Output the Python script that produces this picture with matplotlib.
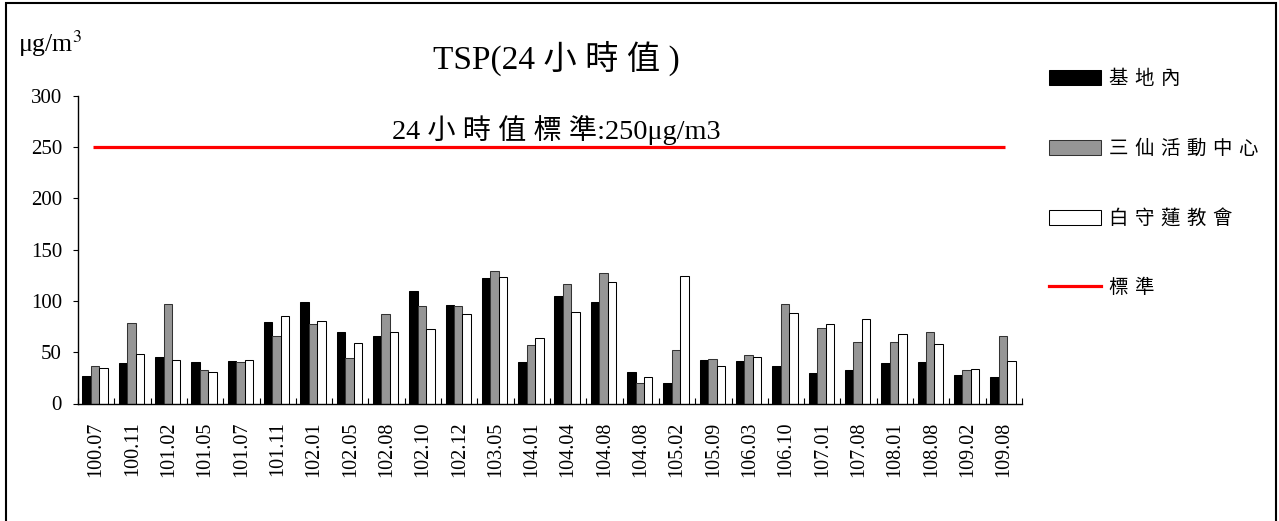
import matplotlib
matplotlib.use("Agg")
import matplotlib.pyplot as plt
import numpy as np
from matplotlib.patches import Rectangle, Patch
from matplotlib.lines import Line2D

categories = ["100.07", "100.11", "101.02", "101.05", "101.07", "101.11", "102.01",
              "102.05", "102.08", "102.10", "102.12", "103.05", "104.01", "104.04",
              "104.08", "104.08", "105.02", "105.09", "106.03", "106.10", "107.01",
              "107.08", "108.01", "108.08", "109.02", "109.08"]
site_inside = [26.5, 39.5, 45, 40.5, 41.7, 80, 99.4, 70.2, 65.7, 109.4, 96.1, 122, 40.5,
               104.9, 99.4, 30.4, 19.7, 42.7, 41.7, 36.2, 29.8, 33, 39.5, 40.5, 27.5, 26.2]
sanxian = [36.9, 78.6, 97, 33, 40.1, 66.3, 77.7, 44.7, 87.4, 94.8, 94.8, 128.8, 56.6,
           116.5, 127.5, 20.4, 52.4, 43.7, 46.9, 97.1, 74.1, 60.2, 60.2, 69.9, 33, 66.3]
baishou = [35.0, 47.9, 42.7, 30.4, 42.7, 85.1, 80.6, 58.9, 69.9, 73.1, 87.4, 123.3, 64.1,
           89.3, 118.8, 26.2, 124.3, 36.9, 45.6, 88.3, 77.3, 82.8, 67.6, 57.9, 34, 41.4]
standard = 250
series_names = ["基地內", "三仙活動中心", "白守蓮教會"]
standard_name = "標準"
title = "TSP(24小時值)"
standard_label = "24小時值標準:250μg/m3"
yticks = [0, 50, 100, 150, 200, 250, 300]

FAM = ["Liberation Serif", "Noto Sans CJK TC", "DejaVu Sans"]
plt.rcParams["font.family"] = FAM
plt.rcParams["mathtext.fontset"] = "stix"

W, H = 1279, 521
fig = plt.figure(figsize=(W / 100, H / 100), dpi=100)
ax = fig.add_axes([78 / W, 1 - 403.5 / H, (1022 - 78) / W, (403.5 - 96) / H])


def spaced(s, sp="\u2004", before_ascii=True):
    out = ""
    for i, ch in enumerate(s):
        out += ch
        if i < len(s) - 1:
            nxt = s[i + 1]
            if ord(ch) > 0x2E80 and (before_ascii or ord(nxt) > 0x2E80):
                out += sp
            elif ord(nxt) > 0x2E80 and ord(ch) < 0x2E80 and ch.isdigit():
                out += sp
    return out


x = np.arange(len(categories))
bw = 0.233
offs = [-0.26, -0.027, 0.206]
ax.bar(x + offs[0], site_inside, bw, color="black", edgecolor="black", linewidth=0.75, label=series_names[0])
ax.bar(x + offs[1], sanxian, bw, color="#969696", edgecolor="#333333", linewidth=0.75, label=series_names[1])
ax.bar(x + offs[2], baishou, bw, color="white", edgecolor="black", linewidth=0.75, label=series_names[2])
ax.plot([-0.087, 25.04], [standard, standard], color="#ff0000", linewidth=2.3, solid_capstyle="butt")

ax.set_xlim(-0.5, len(categories) - 0.5)
ax.set_ylim(0, 300)
ax.set_yticks(yticks)
ax.set_xticks(x)
ax.set_xticklabels(categories, rotation=90, fontsize=14.5)
ax.set_xticks(np.arange(-0.5, len(categories)), minor=True)
ax.tick_params(axis="x", which="major", length=0, pad=13)
ax.tick_params(axis="x", which="minor", direction="in", length=4.5, width=0.8)
ax.tick_params(axis="y", direction="out", length=3.5, width=0.8, pad=8, labelsize=15)
for s in ["top", "right"]:
    ax.spines[s].set_visible(False)
for s in ["left", "bottom"]:
    ax.spines[s].set_linewidth(1)

fig.text(556 / W, 1 - 58 / H, spaced(title, " "), ha="center", va="center", fontsize=24)
fig.text(556 / W, 1 - 130 / H, spaced(standard_label, " ", before_ascii=False),
         ha="center", va="center", fontsize=20.3)
fig.text(18 / W, 1 - 52 / H, "μg/m$^{3}$", ha="left", va="baseline", fontsize=18.5)

handles = [Patch(facecolor="black", edgecolor="black", linewidth=0.75),
           Patch(facecolor="#969696", edgecolor="#333333", linewidth=0.75),
           Patch(facecolor="white", edgecolor="black", linewidth=0.75),
           Line2D([0], [0], color="#ff0000", linewidth=2.3)]
labels = [spaced(n) for n in series_names] + [spaced(standard_name)]
fig.legend(handles, labels, loc="upper left", bbox_to_anchor=(1049 / W, 1 - 70 / H),
           bbox_transform=fig.transFigure, frameon=False, fontsize=14,
           handlelength=2.65, handleheight=0.8, handletextpad=0.45,
           labelspacing=2.63, borderpad=0, borderaxespad=0)

fig.add_artist(Rectangle((6 / W, -0.1), 1270 / W, 1 - 3 / H + 0.1, transform=fig.transFigure,
                         fill=False, edgecolor="black", linewidth=1.5))

fig.savefig("out.png", dpi=100)
